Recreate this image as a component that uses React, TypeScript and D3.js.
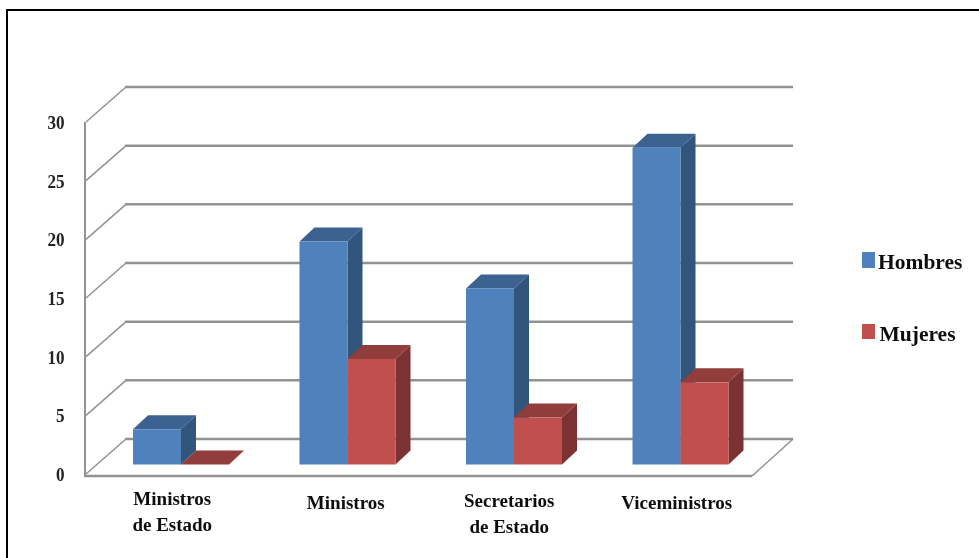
import React from 'react';
import * as d3 from 'd3';

const categories = ['Ministros de Estado', 'Ministros', 'Secretarios de Estado', 'Viceministros'];
const categoryLines = [['Ministros', 'de Estado'], ['Ministros'], ['Secretarios', 'de Estado'], ['Viceministros']];
const seriesNames = ['Hombres', 'Mujeres'];
const hombres = [3, 19, 15, 27];
const mujeres = [0, 9, 4, 7];
const yTicks = [0, 5, 10, 15, 20, 25, 30];

const WIDTH = 979;
const HEIGHT = 558;

const frontLeft = 86;
const frontRight = 752;
const frontBase = 474;
const frontTop = 122;
const wallDx = 40;
const wallDy = -35;
const barDx = 15;
const barDy = -14;
const barBase = 464.5;

// the labels in the source are not centred on their bands
const labelNudge = [3, 10, 7, 8];
const labelBaseline = [505, 509, 507, 509];

const x0 = d3.scaleBand<string>().domain(categories).range([frontLeft, frontRight]);
const x1 = d3.scaleBand<string>().domain(seriesNames).range([47, 143]);
const y = d3.scaleLinear().domain([0, 30]).range([frontBase, frontTop]);
const height = d3.scaleLinear().domain([0, 30]).range([0, frontBase - frontTop]);

const colors: Record<string, { front: string; top: string; side: string }> = {
  Hombres: { front: '#4f81bd', top: '#3a6290', side: '#32547c' },
  Mujeres: { front: '#c0504d', top: '#903c3a', side: '#7c3331' },
};

const font = '"Liberation Serif", "Times New Roman", serif';
const gridColor = '#929292';

const line = d3.line();

function Bar({ x, w, value, series }: { x: number; w: number; value: number; series: string }) {
  const top = barBase - height(value);
  const c = colors[series];
  const topFace = line([
    [x, top],
    [x + barDx, top + barDy],
    [x + w + barDx, top + barDy],
    [x + w, top],
  ]) + 'Z';
  const sideFace = line([
    [x + w, top],
    [x + w + barDx, top + barDy],
    [x + w + barDx, barBase + barDy],
    [x + w, barBase],
  ]) + 'Z';
  return (
    <g>
      {value > 0 && <path d={sideFace} fill={c.side} />}
      <path d={topFace} fill={c.top} />
      {value > 0 && <rect x={x} y={top} width={w} height={barBase - top} fill={c.front} />}
    </g>
  );
}

export default function App() {
  const seriesValues = [hombres, mujeres];
  return (
    <svg
      width={WIDTH}
      height={HEIGHT}
      style={{ position: 'absolute', left: 0, top: 0, background: '#fff' }}
    >
      <defs>
        <filter id="soft" x="-2%" y="-2%" width="104%" height="104%">
          <feGaussianBlur stdDeviation="0.5" />
        </filter>
      </defs>

      {/* outer frame, open on the right */}
      <path d={`M7 ${HEIGHT}V10H${WIDTH}`} fill="none" stroke="#000" strokeWidth={2} />

      <g filter="url(#soft)">
        {/* side wall diagonals */}
        {yTicks.map((t) => (
          <path
            key={t}
            d={line([
              [frontLeft, y(t)],
              [frontLeft + wallDx, y(t) + wallDy],
            ]) as string}
            fill="none"
            stroke={gridColor}
            strokeWidth={1.5}
          />
        ))}
        {/* back wall gridlines */}
        {yTicks.map((t) => (
          <path
            key={t}
            d={line([
              [frontLeft + wallDx - 1, y(t) + wallDy],
              [frontRight + wallDx + 1, y(t) + wallDy],
            ]) as string}
            fill="none"
            stroke={gridColor}
            strokeWidth={2.5}
          />
        ))}
        {/* axes and floor edge */}
        <path
          d={line([
            [frontLeft - 1, y(30)],
            [frontLeft - 1, y(0) + 2],
          ]) as string}
          fill="none"
          stroke={gridColor}
          strokeWidth={2}
        />
        <path
          d={line([
            [frontLeft - 2, y(0) + 2],
            [frontRight, y(0) + 2],
          ]) as string}
          fill="none"
          stroke={gridColor}
          strokeWidth={2.5}
        />
        <path
          d={line([
            [frontRight, y(0) + 2],
            [frontRight + wallDx + 1, y(0) + wallDy],
          ]) as string}
          fill="none"
          stroke={gridColor}
          strokeWidth={1.5}
        />

        {/* bars */}
        {categories.map((cat, i) =>
          seriesNames.map((s, j) => (
            <Bar
              key={cat + s}
              x={(x0(cat) as number) + (x1(s) as number)}
              w={x1.bandwidth()}
              value={seriesValues[j][i]}
              series={s}
            />
          )),
        )}

        {/* y tick labels */}
        {yTicks.map((t) => (
          <text
            key={t}
            transform={`translate(64.5,${y(t) + 7}) scale(0.9,1)`}
            textAnchor="end"
            fontFamily={font}
            fontWeight="bold"
            fontSize={19}
            fill="#222"
          >
            {t}
          </text>
        ))}

        {/* category labels */}
        {categories.map((cat, i) =>
          categoryLines[i].map((l, k) => (
            <text
              key={l + k}
              x={(x0(cat) as number) + x0.bandwidth() / 2 + labelNudge[i]}
              y={labelBaseline[i] + k * 26}
              textAnchor="middle"
              fontFamily={font}
              fontWeight="bold"
              fontSize={19}
              fill="#111"
            >
              {l}
            </text>
          )),
        )}

        {/* legend */}
        {seriesNames.map((s, i) => (
          <g key={s}>
            <rect x={862} y={[252, 324][i]} width={13} height={[16, 15][i]} fill={colors[s].front} />
            <text
              x={[878, 879.5][i]}
              y={[268.5, 341][i]}
              fontFamily={font}
              fontWeight="bold"
              fontSize={21.5}
              fill="#111"
            >
              {s}
            </text>
          </g>
        ))}
      </g>
    </svg>
  );
}
